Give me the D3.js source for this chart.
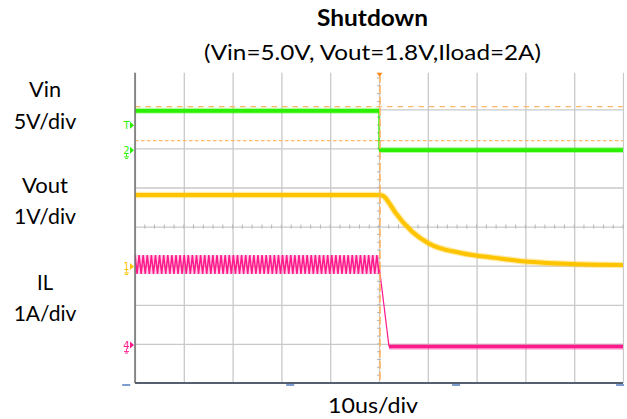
<!DOCTYPE html>
<html><head><meta charset="utf-8">
<script src="https://cdn.jsdelivr.net/npm/d3@7"></script>
<style>
body{margin:0;background:#fff;}
text{font-family:Lato,"Open Sans",sans-serif;fill:#000;}
</style>
</head><body>
<svg id="c" width="627" height="419"></svg>
<script>
// ---------- data ----------
const timeDomainUs = [-50, 50];           // 10 us/div, trigger at 0
const divDomain = [-4, 4];                // 8 vertical divisions

// Vin (ch2, 5 V/div)
const vinT = [-50, 0, 0, 50];
const vinV = [5.05, 5.05, 0.03, 0.03];
// Vout (ch1, 1 V/div)
const voutT = [-50, 0, 0.6, 1.2, 2.1, 3.4, 6.8, 10.2, 17, 23.9, 30.7, 41, 50];
const voutV = [1.83, 1.83, 1.82, 1.77, 1.62, 1.37, 0.89, 0.59, 0.34, 0.22, 0.12, 0.06, 0.04];
// IL (ch4, 1 A/div): switching ripple before shutdown, then fall
const ilRipple = [2.30, 1.82];            // peak, valley (A)
const ilSwitchPeriodUs = 0.84;
const ilT = [0, 2.05, 50];
const ilA = [2.05, -0.04, -0.04];
// cursors (in Vin volts) and trigger level
const cursorV = [5.6, 1.25];
const triggerLevelV = 3.2;
// channel settings: ground offset (div) and units per div
const channels = {
  vin:  {offset: 1.95,  perDiv: 5, color: "#2cf000", label: "2"},
  vout: {offset: -1.02, perDiv: 1, color: "#ffc400", label: "1"},
  il:   {offset: -3.03, perDiv: 1, color: "#ff1a8c", label: "4"}
};
const leftLabels = [["Vin", "5V/div"], ["Vout", "1V/div"], ["IL", "1A/div"]];
const bottomMarksUs = [-51.8, -18.2, 15.8, 49.4];

// ---------- layout ----------
const svg = d3.select("#c");
const L = 135, R = 623, T = 72.7, B = 383;
const x = d3.scaleLinear().domain(timeDomainUs).range([L, R]);
const yDiv = d3.scaleLinear().domain(divDomain).range([B, 70.2]);
const yc = (ch, v) => yDiv(channels[ch].offset + v / channels[ch].perDiv);

svg.append("defs").append("clipPath").attr("id", "clip")
  .append("rect").attr("x", L).attr("y", T).attr("width", R - L + 1).attr("height", B - T);

const grid = svg.append("g").attr("clip-path", "url(#clip)");
// vertical gridlines
grid.append("g").attr("transform", `translate(0,${B})`)
  .call(d3.axisBottom(x).ticks(10).tickSize(-(B - 60)).tickFormat(""))
  .call(g => g.select(".domain").remove())
  .call(g => g.selectAll("line").attr("stroke", "#c9c9c9").attr("stroke-width", 1.3));
// horizontal gridlines
grid.append("g").attr("transform", `translate(${L},0)`)
  .call(d3.axisLeft(yDiv).ticks(8).tickSize(-(R - L)).tickFormat(""))
  .call(g => g.select(".domain").remove())
  .call(g => g.selectAll("line").attr("stroke", "#c9c9c9").attr("stroke-width", 1.3));
// minor ticks along the centre lines
const minorT = d3.range(-50, 50.01, 2);
grid.append("g").selectAll("line").data(minorT).join("line")
  .attr("x1", d => x(d)).attr("x2", d => x(d))
  .attr("y1", yDiv(0) - 2).attr("y2", yDiv(0) + 2)
  .attr("stroke", "#b5b5b5").attr("stroke-width", 1);
const minorD = d3.range(-4, 4.01, 0.2);
grid.append("g").selectAll("line").data(minorD).join("line")
  .attr("x1", x(0) - 2).attr("x2", x(0) + 2)
  .attr("y1", d => yDiv(d)).attr("y2", d => yDiv(d))
  .attr("stroke", "#b5b5b5").attr("stroke-width", 1);

// cursors
const curs = svg.append("g").attr("clip-path", "url(#clip)");
curs.selectAll("line").data(cursorV).join("line")
  .attr("x1", L).attr("x2", R)
  .attr("y1", d => yc("vin", d)).attr("y2", d => yc("vin", d))
  .attr("stroke", "#ffb868").attr("stroke-width", 1.3)
  .attr("stroke-dasharray", (d, i) => i === 0 ? "5.5,5" : "3.5,2.5");

// traces
const tr = svg.append("g").attr("clip-path", "url(#clip)");
const lineFor = (ch, curve) => d3.line().x(d => x(d[0])).y(d => yc(ch, d[1])).curve(curve || d3.curveLinear);
function thick(ch, data, core, halo, curve) {
  tr.append("path").datum(data).attr("d", lineFor(ch, curve))
    .attr("fill", "none").attr("stroke", channels[ch].color).attr("stroke-opacity", 0.35).attr("stroke-width", halo);
  tr.append("path").datum(data).attr("d", lineFor(ch, curve))
    .attr("fill", "none").attr("stroke", channels[ch].color).attr("stroke-width", core);
}
function thin(ch, data, w) {
  tr.append("path").datum(data).attr("d", lineFor(ch))
    .attr("fill", "none").attr("stroke", channels[ch].color).attr("stroke-width", w);
}

// Vin: flat levels thick, the step thin
const vinData = vinT.map((t, i) => [t, vinV[i]]);
thin("vin", vinData.slice(1, 3), 1.4);
thick("vin", vinData.slice(0, 2), 3.6, 6);
thick("vin", vinData.slice(2), 3.6, 6);

// IL ripple before shutdown
const nHalf = Math.round((0 - timeDomainUs[0]) / (ilSwitchPeriodUs / 2));
const ripple = d3.range(nHalf + 1).map(k => [timeDomainUs[0] + k * ilSwitchPeriodUs / 2, ilRipple[k % 2]]);
tr.append("rect")
  .attr("x", x(timeDomainUs[0])).attr("width", x(0) - x(timeDomainUs[0]))
  .attr("y", yc("il", ilRipple[0])).attr("height", yc("il", ilRipple[1]) - yc("il", ilRipple[0]))
  .attr("fill", channels.il.color).attr("fill-opacity", 0.22);
tr.append("path").datum(ripple).attr("d", lineFor("il"))
  .attr("fill", "none").attr("stroke", channels.il.color).attr("stroke-width", 1.5);
// IL fall and flat
const ilData = ilT.map((t, i) => [t, ilA[i]]);
thin("il", ilData.slice(0, 2), 1.2);
thick("il", ilData.slice(1), 3.4, 6);

// Vout
const voutData = voutT.map((t, i) => [t, voutV[i]]);
thick("vout", voutData, 4, 6.5, d3.curveMonotoneX);

// trigger position line
svg.append("line").attr("x1", x(0) + 1).attr("x2", x(0) + 1).attr("y1", T + 2).attr("y2", B)
  .attr("stroke", "#ffb35c").attr("stroke-width", 1.5).attr("stroke-dasharray", "8,3");
svg.append("path")
  .attr("d", `M${x(0) - 2.5},${T} L${x(0) + 3.5},${T} L${x(0) + 0.5},${T + 4} Z`)
  .attr("fill", "#ff8a1a");

// axis frame
svg.append("line").attr("x1", L).attr("x2", L).attr("y1", T).attr("y2", B)
  .attr("stroke", "#6e6e6e").attr("stroke-width", 1.5);
svg.append("line").attr("x1", L).attr("x2", R).attr("y1", B).attr("y2", B)
  .attr("stroke", "#55606e").attr("stroke-width", 1.8);
svg.append("g").selectAll("rect").data(bottomMarksUs).join("rect")
  .attr("x", d => x(d) - 4).attr("y", B + 1).attr("width", 8).attr("height", 2)
  .attr("fill", "#7d9dd0");

// channel markers on the left edge
function marker(color, label, yPos) {
  const g = svg.append("g").attr("transform", `translate(${L - 1},${yPos})`);
  g.append("path").attr("d", "M-4,-3.5 L0,0 L-4,3.5 Z").attr("fill", color);
  g.append("text").attr("x", -4.5).attr("y", 3.5).attr("text-anchor", "end")
    .style("font-size", "10px").style("font-family", "DejaVu Sans").style("fill", color).text(label);
  if (label !== "T") {
    g.append("path").attr("d", "M-7.5,3.5 V6.5 M-10,6.5 H-5 M-9,8 H-6")
      .attr("stroke", color).attr("stroke-width", 0.9).attr("fill", "none");
  }
}
marker(channels.vin.color, "T", yc("vin", triggerLevelV));
marker(channels.vin.color, channels.vin.label, yc("vin", 0));
marker(channels.vout.color, channels.vout.label, yc("vout", 0));
marker(channels.il.color, channels.il.label, yc("il", 0));

// ---------- text ----------
function txt(str, xx, yy, size, len, weight) {
  return svg.append("text").attr("x", xx).attr("y", yy).attr("text-anchor", "middle")
    .style("font-size", size + "px").style("font-weight", weight || 400)
    .attr("textLength", len).attr("lengthAdjust", "spacingAndGlyphs").text(str);
}
txt("Shutdown", 372.5, 26, 22, 111, 700);
txt("(Vin=5.0V, Vout=1.8V,Iload=2A)", 372.5, 60, 21.5, 337);
const labelBaselines = [[96.7, 128.6], [192.5, 224.2], [290.2, 320.6]];
const labelWidths = [[32, 62.7], [46, 62], [16, 62.7]];
leftLabels.forEach((pair, i) => {
  txt(pair[0], 45, labelBaselines[i][0], 21, labelWidths[i][0]);
  txt(pair[1], 45, labelBaselines[i][1], 21, labelWidths[i][1]);
});
txt("10us/div", 373, 413.3, 22, 90);
</script>
</body></html>
